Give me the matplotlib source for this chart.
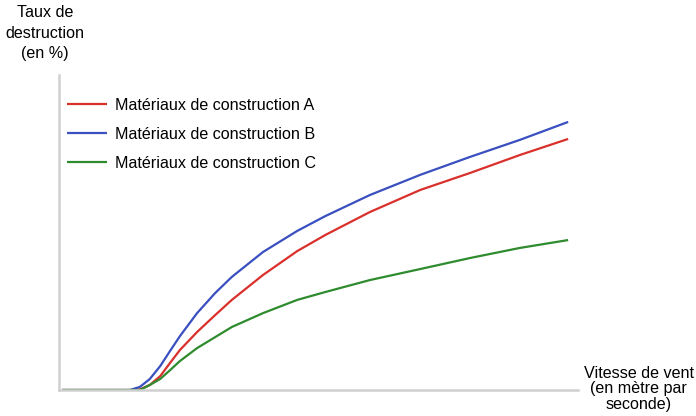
import matplotlib
matplotlib.use("Agg")
import matplotlib.pyplot as plt
import numpy as np

plt.rcParams['font.family'] = ['Liberation Sans', 'DejaVu Sans']

# wind speed (arbitrary units, no ticks on the original)
vitesse = [0.6, 13.7, 15.6, 17.5, 19.5, 21.4, 23.3, 26.6, 30.1, 33.3, 39.3, 45.9, 51.3, 59.9, 69.6, 79.2, 88.8, 98.1]

# destruction rate
mat_a = [0, 0, 0.2, 1.6, 4.4, 8.6, 12.7, 18.4, 23.8, 28.6, 36.5, 44.1, 49.2, 56.5, 63.5, 68.9, 74.6, 79.7]
mat_b = [0, 0, 1.0, 3.5, 7.6, 12.4, 17.1, 24.4, 30.8, 35.9, 43.8, 50.5, 55.2, 61.9, 68.3, 74.0, 79.4, 85.1]
mat_c = [0, 0, 0, 1.6, 3.5, 6.3, 9.2, 13.3, 16.8, 20.0, 24.4, 28.6, 31.1, 34.9, 38.4, 41.9, 45.1, 47.6]

labels = ["Matériaux de construction A", "Matériaux de construction B", "Matériaux de construction C"]
colors = ['#d9302c', '#3a4fc0', '#2e8b2e']

fig = plt.figure(figsize=(6.96, 4.16), dpi=100)
ax = fig.add_axes([59/696, 1-390/416, (578-59)/696, (390-75)/416])

for vals, lab, col in zip([mat_a, mat_b, mat_c], labels, colors):
    ax.plot(vitesse, vals, color=col, lw=1.6, label=lab, solid_capstyle='butt',
            solid_joinstyle='round')

ax.set_xlim(0, 100)
ax.set_ylim(0, 100)
ax.set_xticks([])
ax.set_yticks([])
for s in ['top', 'right']:
    ax.spines[s].set_visible(False)
for s in ['left', 'bottom']:
    ax.spines[s].set_color('#d0d0d0')
    ax.spines[s].set_linewidth(1.8)

fs = 11.6
ax.legend(loc='upper left', bbox_to_anchor=(67/696, 1-98/416), bbox_transform=fig.transFigure,
          frameon=False, fontsize=fs, borderpad=0, borderaxespad=0,
          handlelength=2.5, handletextpad=0.5, labelspacing=0.87)

fig.text(45/696, 1-33/416, "Taux de\ndestruction\n(en %)", ha='center', va='center',
         fontsize=fs, linespacing=1.47)
fig.text(638.5/696, 1-389/416, "Vitesse de vent\n(en mètre par\nseconde)", ha='center', va='center',
         fontsize=fs, linespacing=1.08)

fig.savefig("out.png", dpi=100)
